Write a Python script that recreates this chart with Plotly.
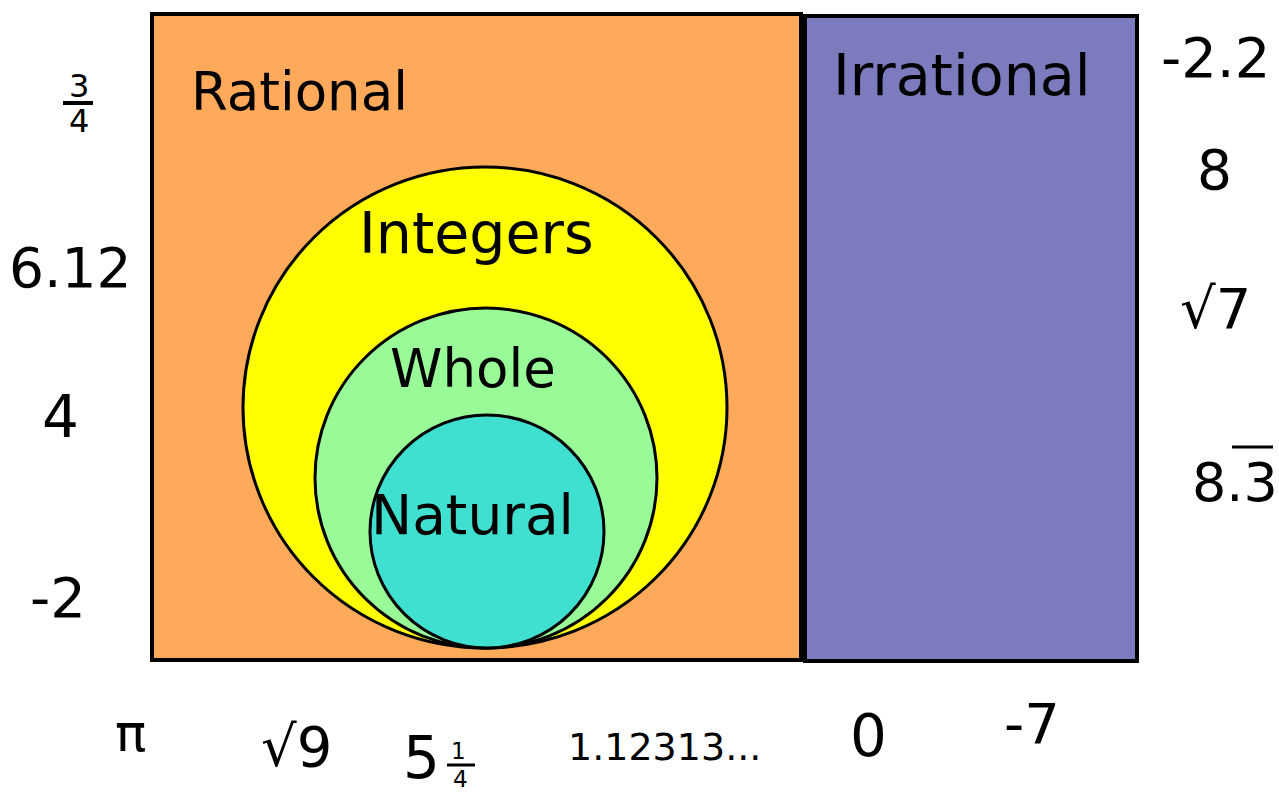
import plotly.graph_objects as go

# ---- data ----
set_names = ["Rational", "Irrational", "Integers", "Whole", "Natural"]
set_colors = ["#FFAA5A", "#7B7BBD", "#FFFF00", "#98FB98", "#40E0D0"]
left_numbers = ["6.12", "4", "-2"]
right_numbers = ["-2.2", "8", "√7", "8.3"]
bottom_numbers = ["π", "√9", "1.12313...", "0", "-7"]
frac_34 = ("3", "4")
mixed_514 = ("5", "1", "4")

# ---- layout geometry (pixels) ----
W, H = 1279, 792
FONT = "DejaVu Sans, sans-serif"
rects = {"Rational": (152, 14, 801, 660), "Irrational": (805, 16, 1137, 661)}
circles = {"Integers": (243, 167, 727, 648), "Whole": (315, 308, 657, 648), "Natural": (370, 415, 604, 648)}
set_label_pos = {"Rational": (299, 91, 53), "Irrational": (962, 75, 57),
                 "Integers": (476, 233, 57), "Whole": (473, 368, 53), "Natural": (472, 515, 55)}
left_pos = [(70, 268, 55), (60, 417, 58), (58, 597, 56)]
right_pos = [(1215, 57, 56), (1214, 170, 55), (1215, 308, 56), (1235, 482, 54)]
bottom_pos = [(130, 733, 52), (296, 746, 56), (664, 747, 38), (868, 736, 58), (1032, 723, 56)]

fig = go.Figure()
shapes = []
for name, color in zip(set_names, set_colors):
    if name in rects:
        x0, y0, x1, y1 = rects[name]
        shapes.append(dict(type="rect", x0=x0, y0=y0, x1=x1, y1=y1, fillcolor=color,
                           line=dict(color="black", width=4), layer="below"))
for name, color in zip(set_names, set_colors):
    if name in circles:
        x0, y0, x1, y1 = circles[name]
        shapes.append(dict(type="circle", x0=x0, y0=y0, x1=x1, y1=y1, fillcolor=color,
                           line=dict(color="black", width=3), layer="below"))

annotations = []
def txt(t, x, y, s):
    annotations.append(dict(text=t, x=x, y=y, xref="x", yref="y", showarrow=False,
                            font=dict(family=FONT, size=s, color="black"),
                            xanchor="center", yanchor="middle"))

for name in set_names:
    x, y, s = set_label_pos[name]
    txt(name, x, y, s)
for t, (x, y, s) in zip(left_numbers, left_pos):
    txt(t, x, y, s)
for t, (x, y, s) in zip(right_numbers, right_pos):
    txt(t, x, y, s)
for t, (x, y, s) in zip(bottom_numbers, bottom_pos):
    txt(t, x, y, s)

# overline on 8.3
shapes.append(dict(type="line", x0=1232, x1=1273, y0=447, y1=447, line=dict(color="black", width=3)))
# stacked fraction 3/4
txt(frac_34[0], 79, 86, 32)
txt(frac_34[1], 79, 121, 32)
shapes.append(dict(type="line", x0=63, x1=93, y0=103, y1=103, line=dict(color="black", width=4)))
# mixed number 5 1/4
txt(mixed_514[0], 421, 758, 58)
txt(mixed_514[1], 458, 751, 23)
txt(mixed_514[2], 460, 779, 23)
shapes.append(dict(type="line", x0=447, x1=475, y0=765, y1=765, line=dict(color="black", width=3)))

fig.update_layout(
    width=W, height=H, margin=dict(l=0, r=0, t=0, b=0),
    paper_bgcolor="white", plot_bgcolor="white",
    xaxis=dict(range=[0, W], visible=False, fixedrange=True),
    yaxis=dict(range=[H, 0], visible=False, fixedrange=True),
    shapes=shapes, annotations=annotations, showlegend=False,
)
fig.write_html("out.html", config={"displayModeBar": False},
               post_script="document.body.style.margin='0';document.body.style.overflow='hidden';")
